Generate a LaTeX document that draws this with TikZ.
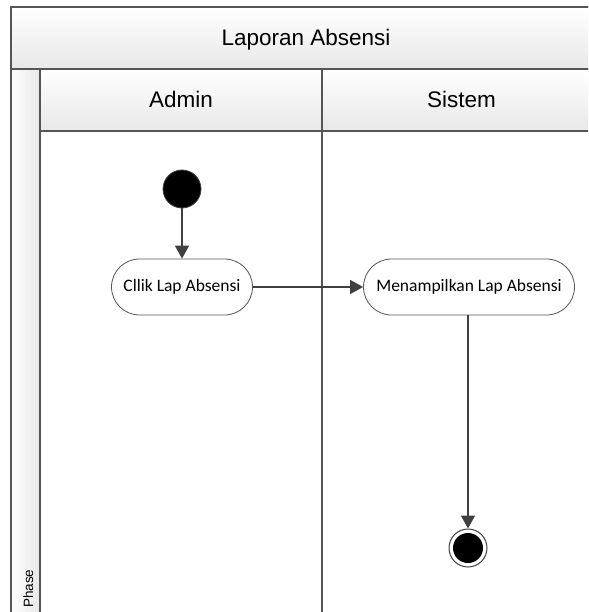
\documentclass[tikz,border=0pt]{standalone}
\usepackage{fontspec}
\setmainfont{Liberation Sans}
\newfontfamily\actfont{Carlito}
\usetikzlibrary{arrows.meta,shapes.misc}

\definecolor{framegray}{HTML}{555555}
\definecolor{flowgray}{HTML}{404040}
\definecolor{bandgray}{HTML}{E8E8E8}

\tikzset{
  frameline/.style={draw=framegray, line width=1.5pt},
  band/.style={frameline, top color=white, bottom color=bandgray},
  headtext/.style={font=\fontsize{22.5}{27}\selectfont, inner sep=0pt, anchor=base},
  phasetext/.style={font=\fontsize{13.5}{16}\selectfont, inner sep=0pt, rotate=90, anchor=base west},
  action/.style={rounded rectangle, draw=framegray, line width=0.8pt, fill=white,
    minimum height=56pt, inner xsep=4pt, font=\actfont\fontsize{17.5}{21}\selectfont},
  startnode/.style={circle, fill=black, draw=flowgray, line width=0.8pt, minimum size=38pt, inner sep=0pt},
  endring/.style={circle, fill=white, draw=flowgray, line width=1pt, minimum size=38pt, inner sep=0pt},
  endcore/.style={circle, fill=black, minimum size=30pt, inner sep=0pt},
  flow/.style={draw=flowgray, line width=1.6pt, -{Triangle[length=13pt,width=14pt]}},
}

\begin{document}
\begin{tikzpicture}[x=1pt,y=-1pt]
  \useasboundingbox (0,0) rectangle (588,612);
  \clip (0,0) rectangle (588,612);
  \fill[white] (0,0) rectangle (588,612);

  % pool outline, title band, phase column and lane headers
  \draw[frameline] (11,7) rectangle (605,630);
  \draw[band] (11,7) rectangle (605,69);
  \draw[frameline, left color=white, right color=bandgray] (11,69) rectangle (40,630);
  \draw[band] (40,69) rectangle (322,131);
  \draw[band] (322,69) rectangle (605,131);
  \draw[frameline] (322,131) -- (322,630);

  % headings
  \node[headtext] (pool) at (306,46) {Laporan Absensi};
  \node[headtext] (laneadmin) at (181,108) {Admin};
  \node[headtext] (lanesistem) at (461.5,108) {Sistem};
  \node[phasetext] (phase) at (33,608) {Phase};

  % activity flow
  \node[startnode] (start) at (182,189) {};
  \node[action, minimum width=149pt] (klik) at (182,287) {Cllik Lap Absensi};
  \node[action, minimum width=219pt] (tampil) at (469,287) {Menampilkan Lap Absensi};
  \node[endring] (finish) at (468,548) {};
  \node[endcore] (finishcore) at (finish.center) {};

  \draw[flow] (start) -- (klik);
  \draw[flow] (klik) -- (tampil);
  \draw[flow] (tampil.south -| finish.north) -- (finish);
\end{tikzpicture}
\end{document}
